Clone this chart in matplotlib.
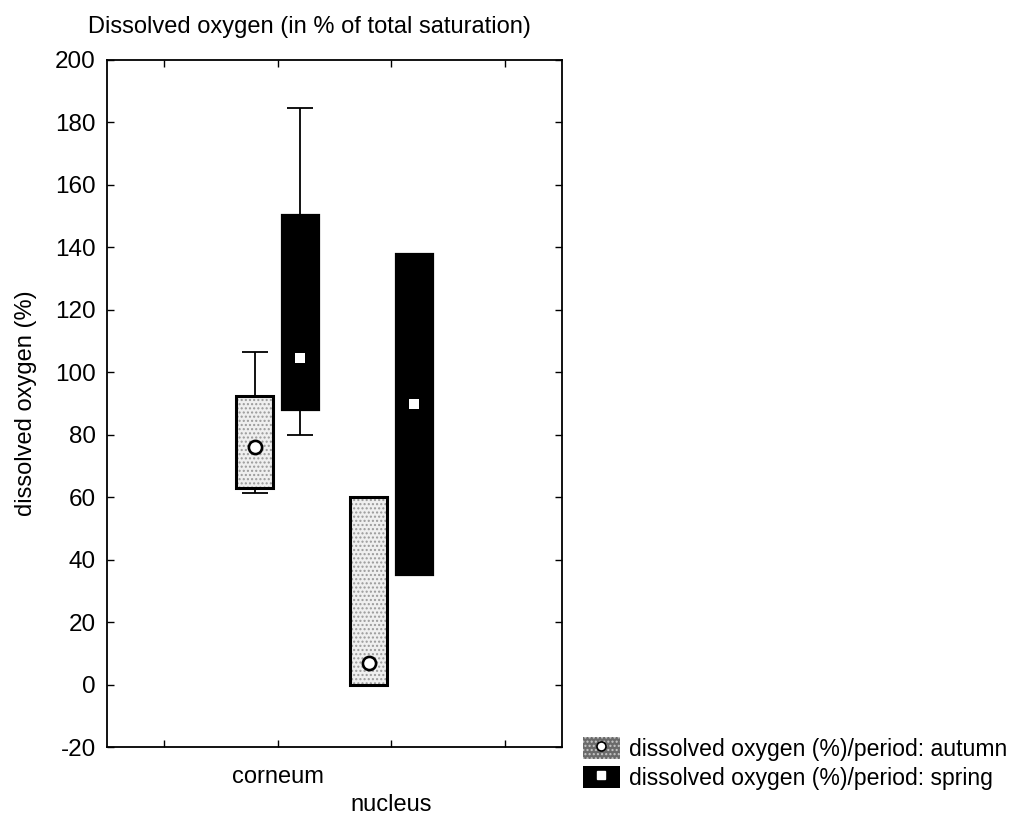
import matplotlib
matplotlib.use("Agg")
import matplotlib.pyplot as plt
from matplotlib.patches import Patch
from matplotlib.lines import Line2D

plt.rcParams['font.family'] = ['Liberation Sans', 'DejaVu Sans']
plt.rcParams['hatch.linewidth'] = 1.0

# ---- data ----
categories = ["corneum", "nucleus"]
periods = ["autumn", "spring"]
autumn_mean = [76.0, 7.0]
autumn_box_low = [63.0, 0.0]
autumn_box_high = [92.5, 60.0]
autumn_min = [61.3, 0.0]
autumn_max = [106.5, 60.0]
spring_mean = [104.5, 90.0]
spring_box_low = [88.0, 35.0]
spring_box_high = [150.3, 138.0]
spring_min = [80.0, 35.0]
spring_max = [184.5, 138.0]
yticks = list(range(-20, 201, 20))

FS = 17
fig = plt.figure(figsize=(10.2, 8.16), dpi=100)
ax = fig.add_axes([107/1020, 1-747/816, (562-107)/1020, (747-60)/816])

cat_x = [1.5, 2.5]
off = 0.2
bw = 0.325

ax_a = [c - off for c in cat_x]
ax_s = [c + off for c in cat_x]

# whiskers (behind boxes)
def whisk(xs, mean, lo, hi):
    yerr = [[m - l for m, l in zip(mean, lo)], [h - m for m, h in zip(mean, hi)]]
    ax.errorbar(xs, mean, yerr=yerr, fmt='none', ecolor='black', elinewidth=1.3,
                capsize=9.5, capthick=1.3, zorder=1)

whisk(ax_a, autumn_mean, autumn_min, autumn_max)
whisk(ax_s, spring_mean, spring_min, spring_max)

# autumn boxes: stippled fill + black outline
ha = [h - l for h, l in zip(autumn_box_high, autumn_box_low)]
ax.bar(ax_a, ha, bottom=autumn_box_low, width=bw, facecolor='#efefef',
       edgecolor='#9a9a9a', linewidth=0, hatch='....', zorder=2)
ax.bar(ax_a, ha, bottom=autumn_box_low, width=bw, fill=False,
       edgecolor='black', linewidth=2.2, zorder=3)
# spring boxes: solid black
hs = [h - l for h, l in zip(spring_box_high, spring_box_low)]
ax.bar(ax_s, hs, bottom=spring_box_low, width=bw, facecolor='black',
       edgecolor='black', linewidth=1.6, zorder=2)

# means
ax.plot(ax_a, autumn_mean, linestyle='none', marker='o', markersize=9.5,
        markerfacecolor='white', markeredgecolor='black', markeredgewidth=1.9, zorder=4)
ax.plot(ax_s, spring_mean, linestyle='none', marker='s', markersize=6.5,
        markerfacecolor='white', markeredgecolor='white', markeredgewidth=0, zorder=4)

ax.set_xlim(0, 4)
ax.set_ylim(-20, 200)
ax.set_yticks(yticks)
ax.set_yticklabels([str(v) for v in yticks], fontsize=17.5)
ax.set_xticks([0.5, 1.5, 2.5, 3.5])
ax.set_xticklabels(['', categories[0], '\n' + categories[1], ''], fontsize=FS,
                   linespacing=1.35)
ax.tick_params(direction='in', top=True, right=True, length=5, width=1.0)
ax.tick_params(axis='y', pad=8)
ax.tick_params(axis='x', pad=14)
for s in ax.spines.values():
    s.set_linewidth(1.3)

ax.set_ylabel("dissolved oxygen (%)", fontsize=FS, labelpad=13)
fig.text(88/1020, 1-27/816, "Dissolved oxygen (in % of total saturation)",
         fontsize=FS, ha='left', va='center')

# legend
h_aut = (Patch(facecolor='#6a6a6a', edgecolor='#c8c8c8', linewidth=0, hatch='....'),
         Line2D([], [], linestyle='none', marker='o', markersize=6.5,
                markerfacecolor='white', markeredgecolor='black', markeredgewidth=1.2))
h_spr = (Patch(facecolor='black', edgecolor='black', linewidth=0),
         Line2D([], [], linestyle='none', marker='s', markersize=5.5,
                markerfacecolor='white', markeredgecolor='white'))
fig.legend([h_aut, h_spr],
           ["dissolved oxygen (%)/period: " + periods[0],
            "dissolved oxygen (%)/period: " + periods[1]],
           loc='upper left', bbox_to_anchor=(583/1020, 1-737/816),
           frameon=False, fontsize=16.6, handlelength=1.6, handleheight=1.1,
           handletextpad=0.4, labelspacing=0.22, borderpad=0, borderaxespad=0)

fig.savefig("out.png", dpi=100)
